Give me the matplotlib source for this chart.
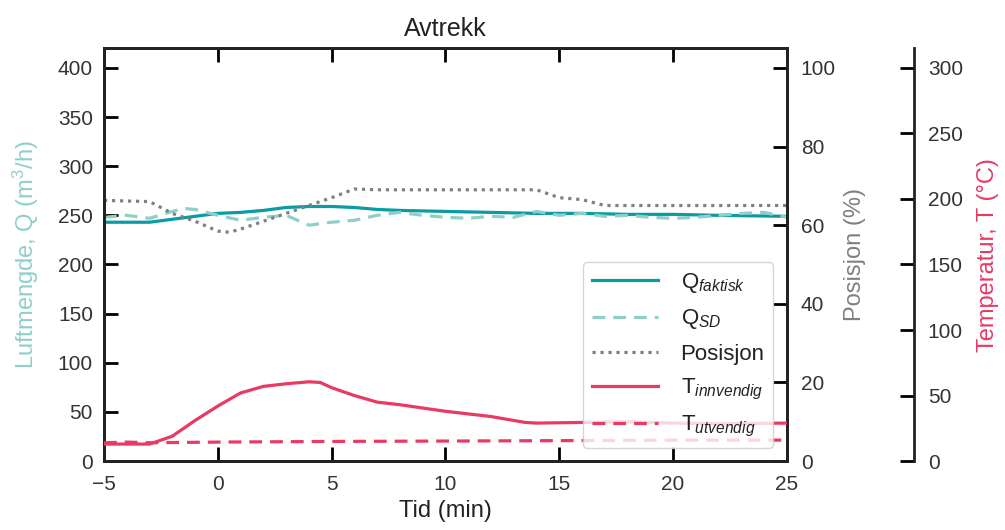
import numpy as np
import matplotlib
matplotlib.use("Agg")
from matplotlib import pyplot as plt

plt.rcParams['font.family'] = ['Liberation Sans', 'DejaVu Sans']
plt.rcParams['mathtext.fontset'] = 'custom'
plt.rcParams['mathtext.rm'] = 'Liberation Sans'
plt.rcParams['mathtext.it'] = 'Liberation Sans:italic'

# data
t_q = [-5, -3, -1, 0, 1, 2, 3, 4, 5, 6, 7, 8, 10, 12, 14, 16, 18, 20, 22, 25]
q_faktisk = [243, 243, 249, 252, 253, 255, 258, 259, 259, 258, 256, 255, 254, 253, 252, 252, 251, 251, 250, 249]

t_sd = [-5, -4, -3, -2, -1.5, -1, 0, 1, 2, 3, 4, 5, 6, 7, 8, 9, 10, 11, 12, 13, 14, 15, 16, 17,
        18, 19, 20, 21, 22, 23, 24, 25]
q_sd = [248, 250, 247, 254, 257, 256, 250, 245, 248, 250, 240, 243, 245, 250, 253, 250, 248, 247,
        249, 248, 254, 250, 252, 249, 250, 248, 247, 248, 250, 252, 253, 248]

t_pos = [-5, -3, -2, -1, 0, 0.5, 1, 2, 3, 4, 5, 6, 7, 10, 14, 15, 16, 17, 20, 25]
posisjon = [66.3, 66, 63, 61, 58.5, 58.2, 59, 61, 63, 65, 67, 69.2, 69, 69, 69, 67, 66.5, 65, 65, 65]

t_temp = [-5, -3, -2, -1, 0, 1, 2, 3, 4, 4.5, 5, 6, 7, 8, 10, 12, 13.5, 14, 16, 18, 20, 22, 25]
t_inn = [13, 13, 19, 31, 42, 52, 57, 59, 60.5, 60, 56, 50, 45, 43, 38, 34, 29.5, 29, 29.5, 30, 29, 28.5, 29]

t_ut_t = [-5, -4, -3, 0, 5, 10, 15, 20, 25]
t_ut = [14, 14.5, 14, 14.5, 15, 15.3, 15.6, 16, 16]

c_q = '#0a9ba3'
c_sd = '#8ecfca'
c_pos = '#808080'
c_t = '#e83a63'

fig, ax = plt.subplots(figsize=(10.05, 5.3), dpi=100)
fig.subplots_adjust(left=0.1035, right=0.783, top=0.909, bottom=0.130)
ax2 = ax.twinx()
ax3 = ax.twinx()
ax3.spines['right'].set_position(('outward', 127 * 0.72))

l1, = ax.plot(t_q, q_faktisk, color=c_q, lw=2.3, label='Q$_{\\mathit{faktisk}}$')
l2, = ax.plot(t_sd, q_sd, color=c_sd, lw=2.3, ls=(0, (4, 2.5)), label='Q$_{\\mathit{SD}}$')
l3, = ax2.plot(t_pos, posisjon, color=c_pos, lw=2.3, ls=(0, (1, 1.5)), label='Posisjon')
l4, = ax3.plot(t_temp, t_inn, color=c_t, lw=2.3, label='T$_{\\mathit{innvendig}}$')
l5, = ax3.plot(t_ut_t, t_ut, color=c_t, lw=2.3, ls=(0, (4, 2.5)), label='T$_{\\mathit{utvendig}}$')

ax.set_xlim(-5, 25)
ax.set_ylim(0, 420)
ax2.set_ylim(0, 105)
ax3.set_ylim(0, 315)
ax.set_xticks(range(-5, 26, 5))
ax.set_yticks(range(0, 401, 50))
ax2.set_yticks(range(0, 101, 20))
ax3.set_yticks(range(0, 301, 50))
ax.set_xticklabels([str(v).replace('-', '\u2212') for v in range(-5, 26, 5)])

ax.set_title('Avtrekk', fontsize=18, pad=9, color='#222222')
ax.set_xlabel('Tid (min)', fontsize=17, labelpad=4, color='#222222')
ax.set_ylabel('Luftmengde, Q (m$^3$/h)', fontsize=17, color=c_sd, labelpad=12)
ax2.set_ylabel('Posisjon (%)', fontsize=17, color=c_pos, labelpad=6)
ax3.set_ylabel('Temperatur, T (°C)', fontsize=17, color=c_t, labelpad=10)

for a in (ax, ax2, ax3):
    for s in a.spines.values():
        s.set_linewidth(2)
        s.set_color('#222222')
ax3.spines['left'].set_visible(False)
ax3.spines['top'].set_visible(False)
ax3.spines['bottom'].set_visible(False)

ax.tick_params(axis='x', direction='in', length=10, width=2, labelsize=15, top=True, pad=10,
               labelcolor='#333333')
ax.tick_params(axis='y', direction='in', length=10, width=2, labelsize=15, pad=8,
               labelcolor='#333333')
ax2.tick_params(axis='y', direction='in', length=10, width=2, labelsize=15, pad=10,
                labelcolor='#333333')
ax3.tick_params(axis='y', direction='in', length=10, width=2, labelsize=15, pad=10,
                labelcolor='#333333')

leg = ax3.legend(handles=[l1, l2, l3, l4, l5], loc='lower right',
                 bbox_to_anchor=(0.99, 0.015), fontsize=16, framealpha=0.8,
                 edgecolor='#cccccc', handlelength=3.0, labelspacing=0.55,
                 borderaxespad=0.3, handletextpad=1.0, labelcolor='#222222')

plt.savefig('out.png', dpi=100)
